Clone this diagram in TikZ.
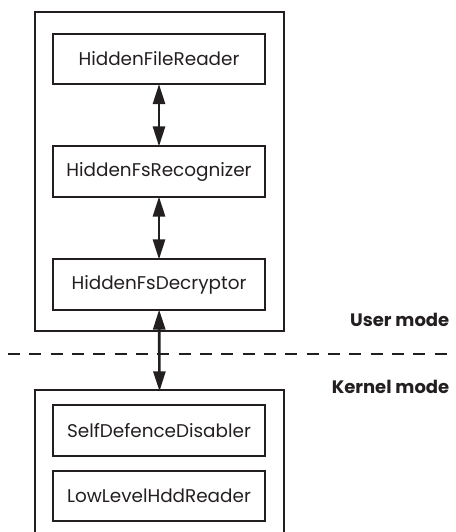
\documentclass[tikz,border=0pt]{standalone}
\usepackage{fontspec}
\setmainfont{Poppins}
\usetikzlibrary{arrows.meta}
\definecolor{ink}{HTML}{231F20}
\tikzset{
  every picture/.style={line join=miter, >=Stealth},
  modbox/.style={draw=ink, line width=1.6pt, minimum width=159pt, minimum height=38pt, inner sep=0pt, font=\fontsize{13.8}{16}\selectfont, text=ink},
  layerbox/.style={draw=ink, line width=2pt},
  link/.style={{Triangle[width=9pt,length=15pt]}-{Triangle[width=9pt,length=15pt]}, line width=2pt, draw=ink, shorten <=-1pt, shorten >=-1pt},
  modelabel/.style={anchor=east, font=\bfseries\fontsize{13.5}{16}\selectfont, text=ink},
}

\begin{document}
\begin{tikzpicture}[x=0.75pt,y=-0.75pt]
\useasboundingbox (0,0) rectangle (455,532);
\draw[layerbox] (35,12) rectangle (284,331);
\draw[layerbox] (35,532) -- (35,390) -- (284,390) -- (284,532);
\coordinate (kerneltop) at (159.5,390);
\node[modbox] (reader) at (159,59) {HiddenFileReader};
\node[modbox] (recognizer) at (159,171.5) {HiddenFsRecognizer};
\node[modbox] (decryptor) at (159,284.5) {HiddenFsDecryptor};
\node[modbox] (disabler) at (159,430.5) {SelfDefenceDisabler};
\node[modbox] (hddreader) at (159,496) {LowLevelHddReader};
\draw[link] (reader) -- (recognizer);
\draw[link] (recognizer) -- (decryptor);
\draw[link] (decryptor) -- (kerneltop);
\draw[ink, line width=1.6pt, dash pattern=on 9pt off 7pt] (8,354) -- (455,354);
\node[modelabel] (usermode) at (454,320) {User mode};
\node[modelabel] (kernelmode) at (454,387) {Kernel mode};
\end{tikzpicture}
\end{document}
